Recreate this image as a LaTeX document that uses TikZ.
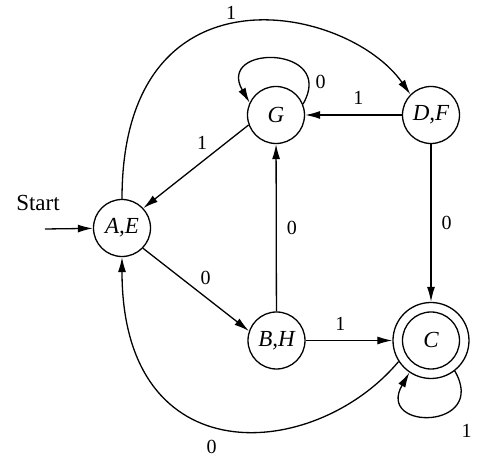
\documentclass[tikz,border=0pt]{standalone}
\usepackage{fontspec}
\setmainfont{Liberation Serif}
\usetikzlibrary{arrows.meta}
\tikzset{
  state/.style={draw,circle,minimum size=28.5pt,inner sep=0pt,font=\fontsize{11.5}{13}\selectfont\itshape},
  lbl/.style={inner sep=2pt,font=\fontsize{10}{12}\selectfont},
}
\begin{document}
\begin{tikzpicture}[x=0.5pt,y=-0.5pt,line width=0.65pt,>={Latex[length=7.5pt,width=4pt]}]
        \useasboundingbox (0,0) rectangle (484,469);
        %% States
        \node[state] (AE) at (122,228) {A,E};
        \node[state] (G) at (276,115) {G};
        \node[state] (DF) at (431,115) {D,F};
        \node[state] (BH) at (276.5,340.5) {B,H};
        \node[state,minimum size=38pt] (C) at (431,340.5) {C};
        \draw (C.center) circle[radius=14.25pt];
        %% Start
        \node[font=\fontsize{11.5}{13}\selectfont] (starttext) at (38,203) {Start};
        \coordinate (startin) at (45,229);
        \draw[->] (startin) -- (AE);
        %% Transitions
        \draw[->] (G.200) -- (AE.43) node[lbl,pos=0.35,above left] {1};
        \draw[->] (AE.-44) -- (BH.161) node[lbl,pos=0.5,above right] {0};
        \draw[->] (BH) -- (G) node[lbl,pos=0.5,right=3pt] {0};
        \draw[->] (DF) -- (G) node[lbl,pos=0.45,above=3pt] {1};
        \draw[->] (DF) -- (C) node[lbl,pos=0.5,right=3pt] {0};
        \draw[->] (BH) -- (C) node[lbl,pos=0.4,above=2.5pt] {1};
        \draw[->] (AE.north) to[out=90,in=125,out distance=120pt,in distance=55pt] node[lbl,pos=0.47,above] {1} (DF.135);
        \draw[->] (C.-147) to[out=-130,in=-90,out distance=65pt,in distance=110pt] node[lbl,pos=0.55,below=5.5pt] {0} (AE.south);
        %% Loops
        \draw[->] (G.22) to[out=60,in=120,distance=34pt] node[lbl,pos=0.15,right=1pt] {0} (G.155);
        \draw[->] (C.-52) to[out=-60,in=-120,distance=34pt] node[lbl,pos=0.35,below right=4pt] {1} (C.-124);
\end{tikzpicture}
\end{document}
